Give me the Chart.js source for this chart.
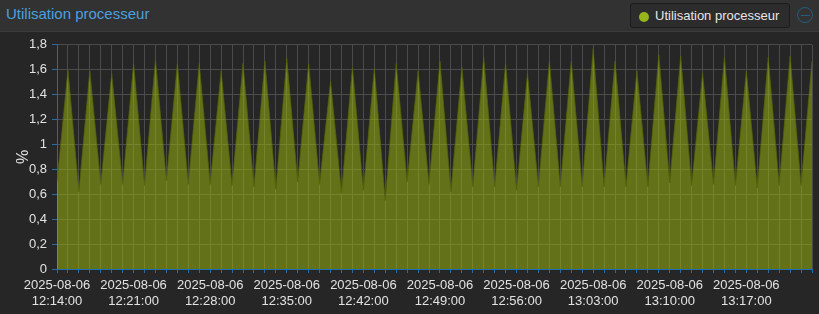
<!DOCTYPE html>
<html>
<head>
<meta charset="utf-8">
<script src="https://cdn.jsdelivr.net/npm/chart.js@4"></script>
<style>
  html, body { margin: 0; padding: 0; background: #262626; }
  body { width: 819px; height: 314px; overflow: hidden; font-family: "Liberation Sans", Arial, sans-serif; }
  .header { position: absolute; left: 0; top: 0; width: 819px; height: 31px; background: #323232; border-bottom: 1px solid #3b3b3b; }
  .title { position: absolute; left: 6px; top: 5px; font-size: 15px; color: #4aa0df; }
  .legend { position: absolute; left: 630px; top: 3px; width: 158px; height: 23px; border: 1px solid #1c1c1c; border-radius: 3px; background: #2c2c2c; }
  .legend .dot { position: absolute; left: 8px; top: 8px; width: 10px; height: 10px; border-radius: 50%; background: #96b41c; }
  .legend .txt { position: absolute; left: 24px; top: 4px; font-size: 13px; color: #e6e6e6; }
  .minus { position: absolute; left: 797px; top: 7px; width: 14px; height: 14px; border: 1px solid #255d80; border-radius: 50%; }
  .minus:after { content: ""; position: absolute; left: 3px; top: 7px; width: 9px; height: 1px; background: #255d80; }
  .wrap { position: absolute; left: 0; top: 32px; width: 819px; height: 282px; }
</style>
</head>
<body>
<div class="header">
  <div class="title">Utilisation processeur</div>
  <div class="legend"><div class="dot"></div><div class="txt">Utilisation processeur</div></div>
  <div class="minus"></div>
</div>
<div class="wrap"><canvas id="myChart"></canvas></div>
<script>
// one point per minute, 2025-08-06
const day = '2025-08-06';
const times = [
  '12:14:00','12:15:00','12:16:00','12:17:00','12:18:00','12:19:00','12:20:00','12:21:00','12:22:00','12:23:00',
  '12:24:00','12:25:00','12:26:00','12:27:00','12:28:00','12:29:00','12:30:00','12:31:00','12:32:00','12:33:00',
  '12:34:00','12:35:00','12:36:00','12:37:00','12:38:00','12:39:00','12:40:00','12:41:00','12:42:00','12:43:00',
  '12:44:00','12:45:00','12:46:00','12:47:00','12:48:00','12:49:00','12:50:00','12:51:00','12:52:00','12:53:00',
  '12:54:00','12:55:00','12:56:00','12:57:00','12:58:00','12:59:00','13:00:00','13:01:00','13:02:00','13:03:00',
  '13:04:00','13:05:00','13:06:00','13:07:00','13:08:00','13:09:00','13:10:00','13:11:00','13:12:00','13:13:00',
  '13:14:00','13:15:00','13:16:00','13:17:00','13:18:00','13:19:00','13:20:00','13:21:00','13:22:00','13:23:00'
];
const cpu = [
  0.70, 1.60, 0.62, 1.59, 0.68, 1.57, 0.68, 1.65, 0.67, 1.68,
  0.71, 1.65, 0.68, 1.65, 0.68, 1.59, 0.67, 1.65, 0.66, 1.67,
  0.64, 1.69, 0.70, 1.65, 0.68, 1.51, 0.61, 1.62, 0.63, 1.61,
  0.55, 1.65, 0.70, 1.59, 0.68, 1.67, 0.62, 1.62, 0.66, 1.70,
  0.66, 1.65, 0.63, 1.57, 0.66, 1.67, 0.66, 1.67, 0.66, 1.77,
  0.66, 1.67, 0.66, 1.59, 0.66, 1.72, 0.69, 1.71, 0.67, 1.57,
  0.68, 1.70, 0.67, 1.59, 0.65, 1.70, 0.67, 1.71, 0.67, 1.67
];
const labelEvery = 7;

const ctx = document.getElementById('myChart');
const txtColor = '#e2e2e2';
const gridColor = '#4b4b4b';
const axisBlue = '#1d6db3';

new Chart(ctx, {
  type: 'line',
  data: {
    labels: times,
    datasets: [{
      label: 'Utilisation processeur',
      data: cpu,
      fill: 'origin',
      backgroundColor: 'rgba(160,188,10,0.5)',
      borderColor: 'rgba(85,100,5,0.7)',
      borderWidth: 1,
      pointRadius: 0,
      tension: 0
    }]
  },
  options: {
    responsive: true,
    maintainAspectRatio: false,
    animation: false,
    layout: { padding: { top: 11, right: 7, left: 0, bottom: 0 } },
    plugins: { legend: { display: false }, tooltip: { enabled: false } },
    scales: {
      x: {
        offset: false,
        grid: { color: gridColor, tickColor: axisBlue, tickLength: 4 },
        border: { color: axisBlue, width: 1 },
        ticks: {
          autoSkip: false,
          maxRotation: 0,
          color: txtColor,
          padding: 5,
          font: { family: '"Liberation Sans", Arial, sans-serif', size: 13 },
          callback: function(v, i) {
            return i % labelEvery === 0 ? [day, times[i]] : '';
          }
        },
        afterFit: function(s) { s.height = 45; }
      },
      y: {
        min: 0,
        max: 1.8,
        grid: { color: gridColor, tickColor: axisBlue, tickLength: 5 },
        border: { color: axisBlue, width: 1 },
        ticks: {
          stepSize: 0.2,
          color: txtColor,
          padding: 5,
          font: { family: '"Liberation Sans", Arial, sans-serif', size: 13 },
          callback: function(v) { return String(Math.round(v * 10) / 10).replace('.', ','); }
        },
        title: {
          display: true,
          text: '%',
          color: txtColor,
          padding: { top: 14, bottom: 0 },
          font: { family: '"Liberation Sans", Arial, sans-serif', size: 16 }
        },
        afterFit: function(s) { s.width = 57; }
      }
    }
  }
});
</script>
</body>
</html>
